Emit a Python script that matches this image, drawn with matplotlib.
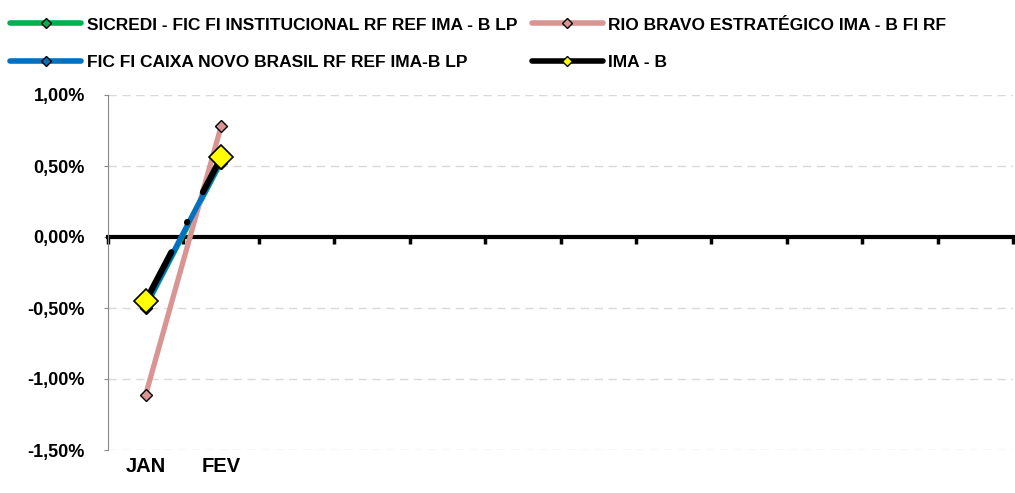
import numpy as np
import matplotlib
matplotlib.use("Agg")
import matplotlib.pyplot as plt
from matplotlib.lines import Line2D
from matplotlib.ticker import FuncFormatter

plt.rcParams['font.family'] = ['Liberation Sans', 'DejaVu Sans']
plt.rcParams['font.weight'] = 'bold'

# dados (%)
meses = ['JAN', 'FEV', '', '', '', '', '', '', '', '', '', '']
sicredi = [-0.50, 0.52]
rio_bravo = [-1.11, 0.78]
caixa = [-0.48, 0.54]
ima_b = [-0.45, 0.56]

nomes = ['SICREDI - FIC FI INSTITUCIONAL RF REF IMA - B LP',
         'RIO BRAVO ESTRATÉGICO IMA - B FI RF',
         'FIC FI CAIXA NOVO BRASIL RF REF IMA-B LP',
         'IMA - B']

def completa(v):
    return np.array(v + [np.nan] * (len(meses) - len(v)))

x = np.arange(len(meses))

fig = plt.figure(figsize=(10.15, 4.93), dpi=100)
ax = fig.add_axes([108/1015, 43/493, 905/1015, 355/493])

ax.plot(x, completa(sicredi), color='#00B050', lw=3.0, marker='D', ms=6,
        mfc='#00B050', mec='black', mew=1, zorder=3)
ax.plot(x, completa(rio_bravo), color='#D99594', lw=3.8, marker='D', ms=6,
        mfc='#D99594', mec='black', mew=1, zorder=4)
ax.plot(x, completa(caixa), color='#0070C0', lw=3.8, marker='D', ms=6,
        mfc='#0070C0', mec='black', mew=1, zorder=5)
ax.plot(x, completa(ima_b), color='black', lw=4.4, dashes=(9, 5.5, 0.1, 5.5),
        dash_capstyle='round', marker='D', ms=12, mfc='#FFFF00', mec='black',
        mew=1.2, zorder=6)

ax.set_xlim(-0.5, len(meses) - 0.5)
ax.set_ylim(-1.5, 1.0)
ax.set_yticks(np.arange(-1.5, 1.01, 0.5))
ax.yaxis.set_major_formatter(FuncFormatter(lambda v, p: ('%.2f%%' % v).replace('.', ',')))
ax.tick_params(axis='y', length=3, color='#888888', labelsize=13, pad=13.5)
for lb in ax.get_yticklabels():
    lb.set_fontweight('bold')
ax.grid(axis='y', color='#D9D9D9', lw=1, dashes=(6, 4))
ax.set_axisbelow(True)

ax.spines['top'].set_visible(False)
ax.spines['right'].set_visible(False)
ax.spines['left'].set_color('#888888')
ax.spines['bottom'].set_position(('data', 0))
ax.spines['bottom'].set_linewidth(3)
ax.spines['bottom'].set_zorder(2)
ax.set_xticks(np.arange(-0.5, len(meses), 1.0))
ax.tick_params(axis='x', length=5, width=2.5, direction='out', labelbottom=False)

sec = ax.secondary_xaxis('bottom')
sec.set_xticks(x)
sec.set_xticklabels(meses, fontsize=14.5, fontweight='bold')
sec.tick_params(length=0, pad=5)
sec.spines['bottom'].set_visible(False)

handles = [
    Line2D([], [], color='#00B050', lw=4, marker='D', ms=5, mfc='#00B050', mec='black', solid_capstyle='round'),
    Line2D([], [], color='#0070C0', lw=4, marker='D', ms=5, mfc='#0070C0', mec='black', solid_capstyle='round'),
    Line2D([], [], color='#D99594', lw=4, marker='D', ms=5, mfc='#D99594', mec='black', solid_capstyle='round'),
    Line2D([], [], color='black', lw=4, marker='D', ms=5, mfc='#FFFF00', mec='black', solid_capstyle='round'),
]
labels = [nomes[0], nomes[2], nomes[1], nomes[3]]
fig.legend(handles, labels, ncol=2, loc='upper left', bbox_to_anchor=(-0.007, 1.0),
           frameon=False, prop={'size': 12.5, 'weight': 'bold'},
           handlelength=4.1, handletextpad=0.3, columnspacing=0.85,
           labelspacing=1.3, borderaxespad=0.6)

fig.savefig('out.png', dpi=100)
